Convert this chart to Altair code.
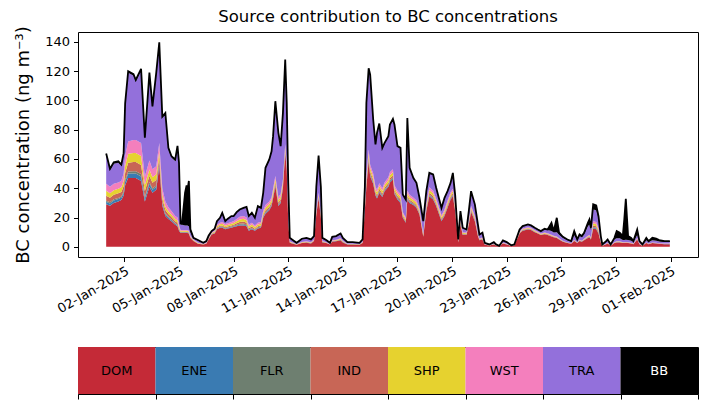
import altair as alt
import pandas as pd

CATS = ["DOM", "ENE", "FLR", "IND", "SHP", "WST", "TRA", "BB"]
COLORS = ["#c42a37", "#3a7bb2", "#6e7f70", "#c86656", "#e6d22f", "#f47fbd", "#9370db", "#000000"]
TICK_DATES = ["2025-01-02", "2025-01-05", "2025-01-08", "2025-01-11", "2025-01-14", "2025-01-17",
              "2025-01-20", "2025-01-23", "2025-01-26", "2025-01-29", "2025-02-01"]

# hours since 2025-01-01 00:00
HOURS = [0, 5, 10, 16, 20, 23, 25, 29, 36, 39,
         46, 51, 57, 61, 66, 70, 74, 78, 82, 86,
         91, 94, 96, 98, 100, 104, 106, 107, 109, 111,
         115, 121, 128, 132, 135, 139, 143, 146, 150, 153,
         157, 160, 165, 168, 172, 176, 181, 185, 188, 192,
         196, 200, 204, 207, 210, 215, 218, 220, 223, 227,
         230, 233, 236, 238, 240, 242, 245, 251, 258, 264,
         270, 274, 277, 280, 283, 285, 290, 295, 298, 303,
         309, 312, 318, 325, 334, 338, 341, 343, 346, 348,
         352, 355, 357, 360, 364, 367, 372, 374, 378, 380,
         384, 388, 391, 395, 397, 400, 405, 409, 413, 418,
         422, 426, 431, 435, 442, 446, 450, 454, 457, 460,
         464, 467, 470, 475, 478, 481, 486, 490, 492, 496,
         499, 505, 511, 514, 518, 523, 528, 534, 538, 545,
         549, 556, 560, 565, 569, 573, 578, 582, 587, 590,
         594, 597, 602, 608, 613, 617, 621, 624, 627, 630,
         635, 637, 639, 642, 646, 649, 652, 654, 659, 661,
         665, 670, 673, 677, 681, 683, 685, 688, 692, 695,
         700, 703, 707, 712, 715, 720, 725, 729, 736, 743]

DOM = [29, 28, 30, 31, 32, 35, 42, 47, 47, 47,
       45, 31, 41, 37, 39, 55, 28, 21, 19, 17.5,
       15, 14, 11, 9.5, 9.5, 9.5, 9.5, 9.5, 9, 6,
       3.9, 2, 1.5, 2, 5, 8.4, 9, 12, 13, 13,
       12, 12.5, 13, 13.5, 14, 14.5, 14.6, 14, 11, 12,
       11, 12.5, 13, 19.8, 22.5, 25, 27.8, 33, 41.4, 27.8,
       30, 40, 64, 52.8, 16.4, 2.7, 2.3, 1.3, 2.5, 2.8,
       2.3, 4, 22, 33, 20, 3, 2.5, 1.5, 3.5, 3.8,
       4.5, 3, 1.6, 1.6, 1.4, 2.5, 25, 41, 58.5, 48,
       43, 35, 33, 37, 34, 38, 41, 44, 46, 36,
       32.3, 30, 19.8, 16.4, 32.3, 30, 28.5, 26.6, 22, 6.8,
       24.4, 34.6, 32.3, 27.8, 17.5, 21, 26.6, 32.3, 34.6, 24.4,
       3, 15.3, 8, 8, 15, 24, 17.5, 7.3, 4.5, 5,
       1.3, 0.8, 1.6, 0.8, 0.3, 2.2, 1.6, 0.5, 0.8, 9,
       11, 11.8, 11.5, 10, 9, 8, 8.5, 8, 7, 6.5,
       6, 5, 3.5, 2.5, 2, 4, 2.5, 4, 3.5, 4.5,
       6, 6.5, 5, 12.5, 12, 9, 3, 0.7, 1.7, 2.2,
       0.7, 2.5, 3, 3, 2.5, 2.5, 2.7, 2.5, 2.2, 1.8,
       5, 1.8, 0.7, 2.5, 1.8, 2.5, 2.3, 2, 1.8, 1.8]

ENE = [1.7, 1.6, 1.6, 1.6, 1.6, 1.8, 2.4, 3.0, 3.1, 3.1,
       3.1, 2.0, 2.2, 1.9, 1.9, 1.9, 1.4, 1.2, 1.0, 0.8,
       0.7, 0.7, 0.5, 0.2, 0.2, 0.2, 0.2, 0.2, 0.2, 0.15,
       0.1, 0.08, 0.05, 0.07, 0.12, 0.13, 0.2, 0.3, 0.35, 0.4,
       0.35, 0.35, 0.4, 0.4, 0.5, 0.6, 0.65, 0.6, 0.4, 0.45,
       0.35, 0.4, 0.4, 0.5, 0.6, 0.6, 0.6, 0.65, 0.7, 0.6,
       0.6, 0.6, 0.6, 0.5, 0.3, 0.1, 0.08, 0.05, 0.08, 0.1,
       0.08, 0.1, 0.3, 0.4, 0.3, 0.1, 0.06, 0.04, 0.1, 0.1,
       0.13, 0.1, 0.05, 0.05, 0.04, 0.08, 0.4, 0.7, 0.8, 0.8,
       0.7, 0.6, 0.6, 0.65, 0.6, 0.6, 0.65, 0.7, 0.7, 0.6,
       0.6, 0.6, 0.4, 0.35, 0.6, 0.55, 0.5, 0.5, 0.4, 0.2,
       0.5, 0.6, 0.6, 0.5, 0.4, 0.45, 0.5, 0.5, 0.5, 0.4,
       0.08, 0.3, 0.2, 0.18, 0.3, 0.4, 0.35, 0.2, 0.12, 0.13,
       0.05, 0.03, 0.05, 0.03, 0.01, 0.06, 0.05, 0.02, 0.03, 0.13,
       0.15, 0.15, 0.15, 0.13, 0.12, 0.11, 0.12, 0.12, 0.12, 0.1,
       0.1, 0.08, 0.06, 0.05, 0.04, 0.08, 0.05, 0.08, 0.07, 0.09,
       0.15, 0.18, 0.13, 0.5, 0.5, 0.35, 0.1, 0.02, 0.04, 0.05,
       0.02, 0.06, 0.08, 0.08, 0.06, 0.06, 0.06, 0.06, 0.05, 0.04,
       0.1, 0.04, 0.02, 0.05, 0.04, 0.05, 0.05, 0.04, 0.04, 0.04]

FLR = [0.8, 0.8, 0.8, 0.8, 0.8, 0.9, 1.2, 1.5, 1.6, 1.6,
       1.6, 1.0, 1.1, 1.0, 1.0, 1.0, 0.7, 0.6, 0.5, 0.4,
       0.4, 0.4, 0.2, 0.2, 0.2, 0.2, 0.2, 0.2, 0.2, 0.15,
       0.1, 0.08, 0.05, 0.07, 0.12, 0.13, 0.2, 0.3, 0.35, 0.4,
       0.35, 0.35, 0.4, 0.4, 0.5, 0.6, 0.65, 0.6, 0.4, 0.45,
       0.35, 0.4, 0.4, 0.5, 0.6, 0.6, 0.6, 0.65, 0.7, 0.6,
       0.6, 0.6, 0.6, 0.5, 0.3, 0.1, 0.08, 0.05, 0.08, 0.1,
       0.08, 0.1, 0.3, 0.4, 0.3, 0.1, 0.06, 0.04, 0.1, 0.1,
       0.13, 0.1, 0.05, 0.05, 0.04, 0.08, 0.4, 0.7, 0.8, 0.8,
       0.7, 0.6, 0.6, 0.65, 0.6, 0.6, 0.65, 0.7, 0.7, 0.6,
       0.6, 0.6, 0.4, 0.35, 0.6, 0.55, 0.5, 0.5, 0.4, 0.2,
       0.5, 0.6, 0.6, 0.5, 0.4, 0.45, 0.5, 0.5, 0.5, 0.4,
       0.08, 0.3, 0.2, 0.18, 0.3, 0.4, 0.35, 0.2, 0.12, 0.13,
       0.05, 0.03, 0.05, 0.03, 0.01, 0.06, 0.05, 0.02, 0.03, 0.13,
       0.15, 0.15, 0.15, 0.13, 0.12, 0.11, 0.12, 0.12, 0.12, 0.1,
       0.1, 0.08, 0.06, 0.05, 0.04, 0.08, 0.05, 0.08, 0.07, 0.09,
       0.15, 0.18, 0.13, 0.5, 0.5, 0.35, 0.1, 0.02, 0.04, 0.05,
       0.02, 0.06, 0.08, 0.08, 0.06, 0.06, 0.06, 0.06, 0.05, 0.04,
       0.1, 0.04, 0.02, 0.05, 0.04, 0.05, 0.05, 0.04, 0.04, 0.04]

IND = [3.4, 3.1, 3.1, 3.1, 3.1, 3.6, 4.8, 6.0, 6.2, 6.2,
       6.2, 4.1, 4.3, 3.8, 3.8, 3.8, 2.9, 2.4, 1.9, 1.7,
       1.4, 1.4, 1.0, 0.4, 0.4, 0.4, 0.4, 0.4, 0.4, 0.3,
       0.2, 0.16, 0.1, 0.14, 0.24, 0.26, 0.4, 0.6, 0.7, 0.8,
       0.7, 0.7, 0.8, 0.8, 1.0, 1.2, 1.3, 1.2, 0.8, 0.9,
       0.7, 0.8, 0.8, 1.0, 1.2, 1.2, 1.2, 1.3, 1.4, 1.2,
       1.2, 1.2, 1.2, 1.0, 0.6, 0.2, 0.16, 0.1, 0.16, 0.2,
       0.16, 0.2, 0.6, 0.8, 0.6, 0.2, 0.12, 0.08, 0.2, 0.2,
       0.26, 0.2, 0.1, 0.1, 0.08, 0.16, 0.8, 1.4, 1.6, 1.6,
       1.4, 1.2, 1.2, 1.3, 1.2, 1.2, 1.3, 1.4, 1.4, 1.2,
       1.2, 1.2, 0.8, 0.7, 1.2, 1.1, 1.0, 1.0, 0.8, 0.4,
       1.0, 1.2, 1.2, 1.0, 0.8, 0.9, 1.0, 1.0, 1.0, 0.8,
       0.16, 0.6, 0.4, 0.36, 0.6, 0.8, 0.7, 0.4, 0.24, 0.26,
       0.1, 0.06, 0.1, 0.06, 0.02, 0.12, 0.1, 0.04, 0.06, 0.26,
       0.3, 0.3, 0.3, 0.26, 0.24, 0.22, 0.24, 0.24, 0.24, 0.2,
       0.2, 0.16, 0.12, 0.1, 0.08, 0.16, 0.1, 0.16, 0.14, 0.18,
       0.3, 0.36, 0.26, 1.0, 1.0, 0.7, 0.2, 0.04, 0.08, 0.1,
       0.04, 0.12, 0.16, 0.16, 0.12, 0.12, 0.12, 0.12, 0.1, 0.08,
       0.2, 0.08, 0.04, 0.1, 0.08, 0.1, 0.1, 0.08, 0.08, 0.08]

SHP = [3.4, 3.1, 3.1, 3.1, 3.1, 3.6, 4.8, 6.0, 6.2, 6.2,
       6.2, 4.1, 4.3, 3.8, 3.8, 3.8, 2.9, 2.4, 1.9, 1.7,
       1.4, 1.4, 1.0, 0.6, 0.6, 0.6, 0.6, 0.6, 0.6, 0.45,
       0.3, 0.24, 0.15, 0.21, 0.36, 0.39, 0.6, 0.9, 1.05, 1.2,
       1.05, 1.05, 1.2, 1.2, 1.5, 1.8, 1.95, 1.8, 1.2, 1.35,
       1.05, 1.2, 1.2, 1.5, 1.8, 1.8, 1.8, 1.95, 2.1, 1.8,
       1.8, 1.8, 1.8, 1.5, 0.9, 0.3, 0.24, 0.15, 0.24, 0.3,
       0.24, 0.3, 0.9, 1.2, 0.9, 0.3, 0.18, 0.12, 0.3, 0.3,
       0.39, 0.3, 0.15, 0.15, 0.12, 0.24, 1.2, 2.1, 2.4, 2.4,
       2.1, 1.8, 1.8, 1.95, 1.8, 1.8, 1.95, 2.1, 2.1, 1.8,
       1.8, 1.8, 1.2, 1.05, 1.8, 1.65, 1.5, 1.5, 1.2, 0.6,
       1.5, 1.8, 1.8, 1.5, 1.2, 1.35, 1.5, 1.5, 1.5, 1.2,
       0.24, 0.9, 0.6, 0.54, 0.9, 1.2, 1.05, 0.6, 0.36, 0.39,
       0.15, 0.09, 0.15, 0.09, 0.03, 0.18, 0.15, 0.06, 0.09, 0.39,
       0.45, 0.45, 0.45, 0.39, 0.36, 0.33, 0.36, 0.36, 0.36, 0.3,
       0.3, 0.24, 0.18, 0.15, 0.12, 0.24, 0.15, 0.24, 0.21, 0.27,
       0.45, 0.54, 0.39, 1.5, 1.5, 1.05, 0.3, 0.06, 0.12, 0.15,
       0.06, 0.18, 0.24, 0.24, 0.18, 0.18, 0.18, 0.18, 0.15, 0.12,
       0.3, 0.12, 0.06, 0.15, 0.12, 0.15, 0.15, 0.12, 0.12, 0.12]

WST = [4.7, 4.4, 4.4, 4.4, 4.4, 5.1, 6.8, 8.5, 8.9, 8.9,
       8.9, 5.8, 6.1, 5.5, 5.5, 5.5, 4.1, 3.4, 2.7, 2.4,
       2.1, 2.1, 1.3, 0.6, 0.6, 0.6, 0.6, 0.6, 0.6, 0.45,
       0.3, 0.24, 0.15, 0.21, 0.36, 0.39, 0.6, 0.9, 1.05, 1.2,
       1.05, 1.05, 1.2, 1.2, 1.5, 1.8, 1.95, 1.8, 1.2, 1.35,
       1.05, 1.2, 1.2, 1.5, 1.8, 1.8, 1.8, 1.95, 2.1, 1.8,
       1.8, 1.8, 1.8, 1.5, 0.9, 0.3, 0.24, 0.15, 0.24, 0.3,
       0.24, 0.3, 0.9, 1.2, 0.9, 0.3, 0.18, 0.12, 0.3, 0.3,
       0.39, 0.3, 0.15, 0.15, 0.12, 0.24, 1.2, 2.1, 2.4, 2.4,
       2.1, 1.8, 1.8, 1.95, 1.8, 1.8, 1.95, 2.1, 2.1, 1.8,
       1.8, 1.8, 1.2, 1.05, 1.8, 1.65, 1.5, 1.5, 1.2, 0.6,
       1.5, 1.8, 1.8, 1.5, 1.2, 1.35, 1.5, 1.5, 1.5, 1.2,
       0.24, 0.9, 0.6, 0.54, 0.9, 1.2, 1.05, 0.6, 0.36, 0.39,
       0.15, 0.09, 0.15, 0.09, 0.03, 0.18, 0.15, 0.06, 0.09, 0.39,
       0.45, 0.45, 0.45, 0.39, 0.36, 0.33, 0.36, 0.36, 0.36, 0.3,
       0.3, 0.24, 0.18, 0.15, 0.12, 0.24, 0.15, 0.24, 0.21, 0.27,
       0.45, 0.54, 0.39, 1.5, 1.5, 1.05, 0.3, 0.06, 0.12, 0.15,
       0.06, 0.18, 0.24, 0.24, 0.18, 0.18, 0.18, 0.18, 0.15, 0.12,
       0.3, 0.12, 0.06, 0.15, 0.12, 0.15, 0.15, 0.12, 0.12, 0.12]

TRA = [19.8, 11.3, 13.8, 13.5, 10.2, 13, 35, 47, 44, 40,
       49.6, 25.5, 59, 42, 63, 67.8, 48, 59.5, 39.6, 36.5,
       37.7, 48, 41.4, 3.5, 3.5, 3, 3, 3, 3, 2.5,
       1, 1.3, 0.5, 1, 1, 0.8, 1, 2.3, 3, 6,
       1.8, 2.8, 3.8, 3.3, 4.5, 4.8, 5.3, 7, 5.7, 6.4,
       5, 11, 9.3, 11.8, 25, 28.2, 31, 35.6, 50.6, 43.6,
       32.3, 45, 57.5, 40.1, 24, 2.2, 1.7, 0.7, 2, 2.1,
       1.7, 2.1, 15.7, 25, 17.7, 1.9, 1.3, 0.6, 2.1, 2.3,
       3.1, 1.9, 0.9, 0.9, 0.7, 1.5, 11.7, 50, 55, 61.2,
       36.5, 28.5, 38.4, 40.2, 27.1, 26.5, 27.6, 32.1, 33.9, 41.1,
       30, 31.1, 11.5, 12, 49.2, 18, 13, 11.6, 7, 8.3,
       8.1, 9.4, 10.6, 7, 4.7, 7.5, 6, 6, 10.4, 6.9,
       1, 5.8, 2.7, 1.7, 6.1, 9.5, 7.6, 5.7, 2.5, 3,
       0.7, 0.4, 0.9, 0.4, 0.1, 1.3, 0.9, 0.2, 0.4, 1.3,
       1.4, 1.8, 1.4, 1.5, 1.4, 1.4, 2.3, 2.3, 2.5, 2.2,
       3, 2.5, 2, 1.5, 1.1, 3, 1.5, 2.5, 2.3, 3,
       6.5, 7, 5, 8, 8, 6.5, 2.5, 0.5, 1.2, 1.5,
       0.5, 2, 2, 2, 1.5, 1.5, 1.5, 1.5, 1.5, 1,
       2, 1, 0.5, 1.5, 1, 1.5, 1.3, 1.2, 1, 1]

BB = [1, 1, 1, 1, 1, 1, 1, 1, 1, 1,
      1, 1, 1, 1, 1, 1, 1, 1, 1, 1,
      1, 1, 1, 1, 1, 22.5, 27.5, 23.5, 31, 2,
      0.2, 0.5, 0.2, 0.2, 0.3, 0.2, 0.3, 0.2, 0.3, 0.2,
      0.2, 0.2, 0.2, 0.2, 0.2, 0.2, 0.2, 0.3, 0.3, 0.3,
      0.3, 0.3, 0.3, 0.3, 0.5, 0.5, 0.5, 0.5, 0.5, 0.5,
      0.5, 0.5, 0.5, 0.5, 0.3, 0.2, 0.2, 0.2, 0.2, 0.2,
      0.2, 0.2, 0.3, 0.4, 0.3, 0.2, 0.2, 0.2, 0.2, 0.2,
      0.2, 0.2, 0.2, 0.2, 0.2, 0.2, 0.3, 0.4, 0.5, 0.5,
      0.5, 0.5, 0.5, 0.5, 0.5, 0.5, 0.5, 0.5, 0.5, 0.5,
      0.5, 0.5, 0.4, 0.4, 0.5, 0.5, 0.5, 0.5, 0.5, 0.4,
      0.5, 0.5, 0.5, 0.5, 0.4, 0.5, 0.4, 0.4, 0.5, 0.4,
      0.2, 0.3, 0.3, 0.3, 0.3, 0.5, 0.4, 0.3, 0.2, 0.3,
      0.2, 0.1, 0.2, 0.1, 0.1, 0.2, 0.2, 0.1, 0.1, 0.2,
      0.2, 0.2, 0.2, 0.2, 0.2, 0.2, 0.3, 0.3, 5.7, 1,
      9.8, 1.3, 0.7, 0.5, 0.4, 2.9, 0.5, 1.1, 0.8, 1.2,
      2.4, 3.4, 1.7, 3.5, 3.2, 2, 0.8, 0.2, 0.6, 0.8,
      0.2, 1, 4.9, 3.8, 2.7, 14.1, 28, 2.7, 1.9, 0.7,
      3.8, 0.7, 0.2, 1.6, 0.7, 1.6, 1.4, 1, 0.7, 0.7]

SERIES = {"DOM": DOM, "ENE": ENE, "FLR": FLR, "IND": IND,
          "SHP": SHP, "WST": WST, "TRA": TRA, "BB": BB}
for k, v in SERIES.items():
    if len(v) != len(HOURS):
        raise ValueError(f"{k}: {len(v)} vs {len(HOURS)}")

start = pd.Timestamp("2025-01-01 00:00:00")
times = [start + pd.Timedelta(hours=h) for h in HOURS]

rows = []
for ci, cat in enumerate(CATS):
    for t, v in zip(times, SERIES[cat]):
        rows.append({"time": t, "source": cat, "order": ci, "value": v})
df = pd.DataFrame(rows)
tot = pd.DataFrame({"time": times,
                    "total": [sum(SERIES[c][i] for c in CATS) for i in range(len(HOURS))]})


def dt(s, h=0, m=0):
    ts = pd.Timestamp(s)
    return alt.DateTime(year=ts.year, month=ts.month, date=ts.day, hours=h, minutes=m)


x_scale = alt.Scale(domain=[dt("2024-12-30", 10, 51), dt("2025-02-02", 12, 9)])
x_axis = alt.Axis(values=[dt(s) for s in TICK_DATES], format="%d-%b-%Y", labelAngle=-30,
                  labelAlign="right", labelBaseline="top", title=None, grid=False,
                  labelOverlap=False, labelFlush=False, tickSize=4.5, labelPadding=3)
y_scale = alt.Scale(domain=[-6.99, 146.8], nice=False, zero=False)
y_axis = alt.Axis(values=list(range(0, 141, 20)), title="BC concentration (ng m\u207b\u00b3)",
                  titleFontSize=18, titleFontWeight="normal", grid=False, titlePadding=12,
                  tickSize=4.5, labelPadding=4)

area = alt.Chart(df).mark_area(interpolate="linear", opacity=1).encode(
    x=alt.X("time:T", scale=x_scale, axis=x_axis),
    y=alt.Y("value:Q", stack="zero", scale=y_scale, axis=y_axis),
    color=alt.Color("source:N", scale=alt.Scale(domain=CATS, range=COLORS), legend=None),
    order=alt.Order("order:Q", sort="ascending"),
)
line = alt.Chart(tot).mark_line(color="black", strokeWidth=1.8, interpolate="linear").encode(
    x=alt.X("time:T", scale=x_scale, axis=x_axis),
    y=alt.Y("total:Q", scale=y_scale, axis=y_axis),
)
top = alt.layer(area, line).properties(
    width=620, height=225,
    title=alt.TitleParams("Source contribution to BC concentrations", fontSize=16.5,
                          fontWeight="normal", offset=0),
)

leg_df = pd.DataFrame({"source": CATS, "i": list(range(len(CATS)))})
leg_df["i2"] = leg_df["i"] + 1
leg_df["mid"] = leg_df["i"] + 0.5
leg_df["lo"] = 0.0
leg_df["hi"] = 1.0
leg_df["ym"] = 0.5

lx_scale = alt.Scale(domain=[0, len(CATS)], nice=False, zero=False)
rects = alt.Chart(leg_df).mark_rect().encode(
    x=alt.X("i:Q", scale=lx_scale,
            axis=alt.Axis(values=list(range(len(CATS) + 1)), labels=False, title=None,
                          grid=False, tickSize=5)),
    x2="i2:Q",
    y=alt.Y("lo:Q", scale=alt.Scale(domain=[0, 1]), axis=None),
    y2="hi:Q",
    color=alt.Color("source:N", scale=alt.Scale(domain=CATS, range=COLORS), legend=None),
)
texts = alt.Chart(leg_df).mark_text(fontSize=13, font="DejaVu Sans").encode(
    x=alt.X("mid:Q", scale=lx_scale),
    y=alt.Y("ym:Q", scale=alt.Scale(domain=[0, 1]), axis=None),
    text="source:N",
    color=alt.condition(alt.datum.source == "BB", alt.value("white"), alt.value("black")),
)
legend_chart = alt.layer(rects, texts).resolve_scale(color="independent").properties(
    width=620, height=47)

chart = alt.vconcat(top, legend_chart, spacing=28).properties(
    padding={"left": 6, "top": 0, "right": 0, "bottom": 0}
).configure(font="DejaVu Sans").configure_view(
    stroke="black", strokeWidth=1
).configure_axis(
    domain=False, tickColor="black", labelColor="black", titleColor="black",
    labelFontSize=13, labelFont="DejaVu Sans", titleFont="DejaVu Sans"
).configure_title(color="black", font="DejaVu Sans")

chart.save("out.html", embed_options={"renderer": "svg", "actions": False})
